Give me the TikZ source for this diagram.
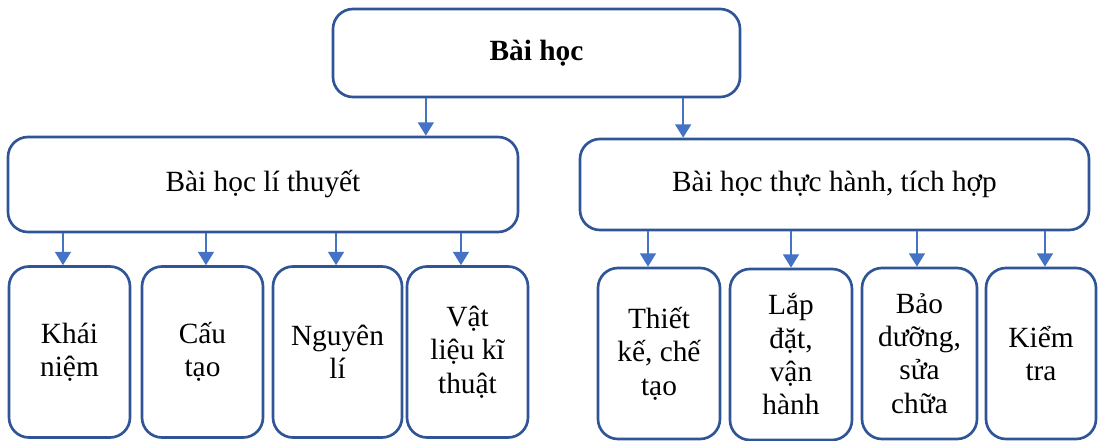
\documentclass[tikz,border=0pt]{standalone}
\usepackage{fontspec}
\setmainfont{Liberation Serif}
\usepackage{xcolor}
\usepackage{tikz}
\usetikzlibrary{arrows.meta}
\definecolor{boxblue}{RGB}{47,85,151}
\definecolor{arrblue}{RGB}{68,114,196}
\tikzset{
  box/.style={draw=boxblue, line width=2pt, rounded corners=15pt, align=center, inner sep=0pt},
  lesson/.style={box, minimum height=128.25pt},
  arr/.style={draw=arrblue, line width=1.1pt, -{Triangle[width=12pt,length=10pt]}}
}

\begin{document}
\begin{tikzpicture}[x=0.75pt, y=-0.75pt, font=\fontsize{22}{25}\selectfont]
\useasboundingbox (0,0) rectangle (1100,441);
\node[box, minimum width=305.25pt, minimum height=66pt] (top) at (536.5,53) {\textbf{Bài học}};
\node[box, minimum width=382.5pt, minimum height=71.25pt] (lit) at (263,184.5) {Bài học lí thuyết};
\node[box, minimum width=381.75pt, minimum height=68.25pt] (prac) at (834.5,184.5) {Bài học thực hành, tích hợp};
% left lessons
\node[lesson, minimum width=90.75pt] (b1) at (69.5,352) {Khái\\niệm};
\node[lesson, minimum width=90.75pt] (b2) at (202.5,352) {Cấu\\tạo};
\node[lesson, minimum width=96.75pt] (b3) at (337.5,352) {Nguyên\\lí};
\node[lesson, minimum width=90.75pt] (b4) at (467.5,352) {Vật\\liệu kĩ\\thuật};
% right lessons
\node[lesson, minimum width=91.5pt] (r1) at (659,353.5) {Thiết\\kế, chế\\tạo};
\node[lesson, minimum width=91.5pt] (r2) at (791,354.5) {Lắp\\đặt,\\vận\\hành};
\node[lesson, minimum width=86.25pt] (r3) at (919.5,353.5) {Bảo\\dưỡng,\\sửa\\chữa};
\node[lesson, minimum width=82.5pt] (r4) at (1041,353.5) {Kiểm\\tra};
\coordinate (t1) at ([xshift=-83pt]top.south);
\coordinate (t2) at ([xshift=110pt]top.south);
\draw[arr] (t1) -- (t1 |- lit.north);
\draw[arr] (t2) -- (t2 |- prac.north);
\draw[arr] ([xshift=-4.9pt]lit.south -| b1) -- ([xshift=-4.9pt]b1.north);
\draw[arr] ([xshift=2.6pt]lit.south -| b2) -- ([xshift=2.6pt]b2.north);
\draw[arr] ([xshift=-1.1pt]lit.south -| b3) -- ([xshift=-1.1pt]b3.north);
\draw[arr] ([xshift=-4.9pt]lit.south -| b4) -- ([xshift=-4.9pt]b4.north);
\draw[arr] ([xshift=-8.25pt]prac.south -| r1) -- ([xshift=-8.25pt]r1.north);
\draw[arr] (prac.south -| r2) -- (r2.north);
\draw[arr] ([xshift=-1.9pt]prac.south -| r3) -- ([xshift=-1.9pt]r3.north);
\draw[arr] ([xshift=3pt]prac.south -| r4) -- ([xshift=3pt]r4.north);
\end{tikzpicture}
\end{document}
